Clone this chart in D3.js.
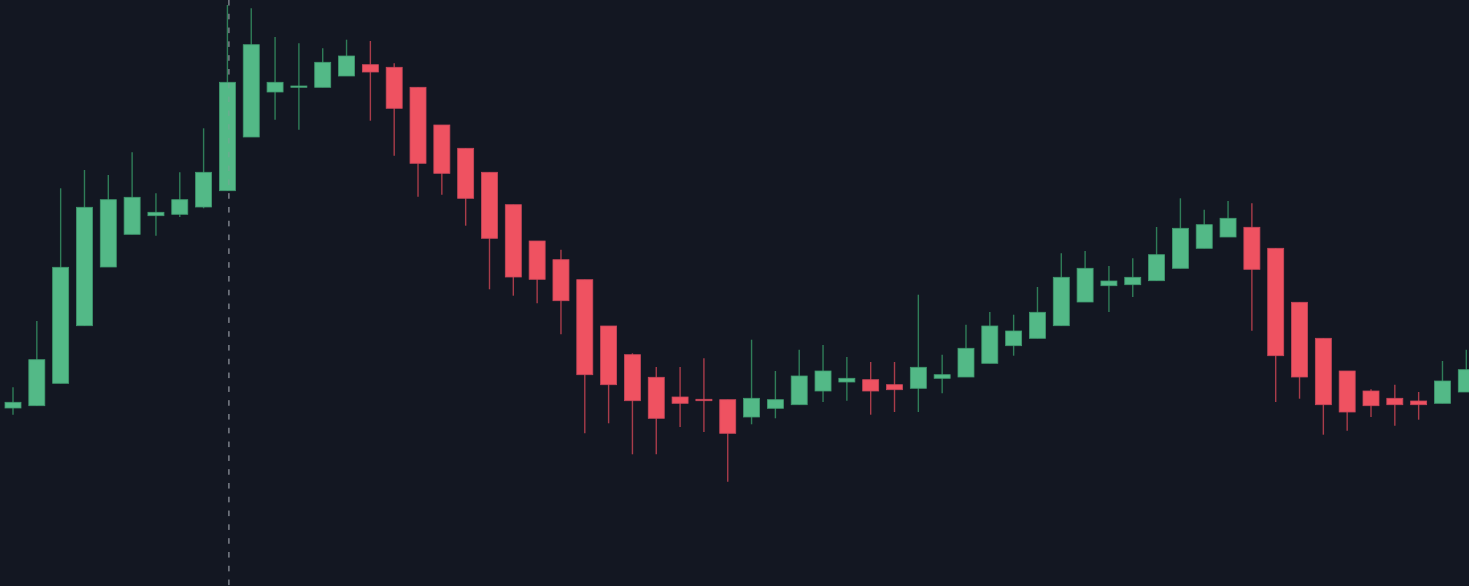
<!DOCTYPE html>
<html>
<head>
<meta charset="utf-8">
<script src="https://cdn.jsdelivr.net/npm/d3@7/dist/d3.min.js"></script>
<style>
  html, body { margin: 0; padding: 0; background: #131722; overflow: hidden; }
  svg { display: block; }
</style>
</head>
<body>
<svg id="chart" width="1469" height="586"></svg>
<script>
// Candle index (categories)
const candleIndex = d3.range(62);
// Series values
const opens  = [117.80,118.03,120.27,126.03,131.90,135.17,137.03,137.17,137.90,139.53,
                144.90,149.40,149.87,149.87,151.00,152.13,151.87,149.87,146.10,143.77,
                141.37,138.13,134.50,132.63,130.63,126.00,123.13,120.87,118.90,118.67,
                118.63,116.90,117.77,118.13,119.50,120.40,120.63,120.13,119.77,120.77,
                120.90,122.27,124.03,124.77,126.03,128.40,130.03,130.13,130.53,131.77,
                133.77,134.90,135.87,133.77,128.37,124.77,121.50,119.50,118.77,118.50,
                118.27,119.40];
const highs  = [119.87,126.50,139.77,141.60,141.10,143.37,139.27,141.37,145.77,158.10,
                157.77,154.90,154.27,153.77,154.63,154.50,152.27,149.87,146.10,143.77,
                141.37,138.13,134.50,133.63,130.63,126.00,123.27,121.90,121.90,122.77,
                118.63,124.63,121.50,123.63,124.10,122.90,122.40,122.40,129.13,123.13,
                126.13,127.40,127.13,129.90,133.27,133.50,132.00,132.77,135.90,138.77,
                137.63,138.50,138.27,133.77,128.37,124.77,121.50,119.67,120.13,119.40,
                122.50,123.63];
const lows   = [117.13,118.03,120.27,126.03,131.90,135.17,135.03,136.90,137.77,139.53,
                144.90,146.63,145.63,149.87,151.00,146.53,143.03,138.93,139.13,136.03,
                129.67,129.03,128.27,125.17,115.27,116.27,113.17,113.17,115.90,115.40,
                110.43,116.17,116.77,118.13,118.40,118.53,117.13,117.40,117.40,119.27,
                120.90,122.27,123.03,124.77,126.03,128.40,127.40,128.90,130.53,131.77,
                133.77,134.90,125.53,118.40,118.73,115.13,115.53,116.90,116.03,116.63,
                118.27,119.40];
const closes = [118.37,122.63,131.87,137.87,138.63,138.87,137.37,138.63,141.37,150.37,
                154.13,150.37,150.00,152.37,153.00,151.40,147.77,142.27,141.27,138.77,
                134.77,130.90,130.67,128.53,121.13,120.13,118.53,116.77,118.27,118.53,
                115.27,118.77,118.63,121.00,121.50,120.77,119.50,119.63,121.87,121.13,
                123.77,126.00,125.50,127.37,130.87,131.77,130.50,130.87,133.13,135.77,
                136.13,136.77,131.67,123.03,120.90,118.13,117.40,118.03,118.13,118.13,
                120.50,121.63];
// Crosshair position (candle index)
const crosshairIndex = [9];

const W = 1469, H = 586;
const svg = d3.select("#chart");
svg.append("rect").attr("width", W).attr("height", H).attr("fill", "#131722");

const data = candleIndex.map(i => ({i, o: opens[i], h: highs[i], l: lows[i], c: closes[i]}));

const x = d3.scaleLinear().domain([0, 61]).range([13, 1466.3]);
const y = d3.scaleLinear().domain([100, 158.6]).range([H, 0]);

const UP = "#53b987", DOWN = "#ef5261";
const UP_WICK = "#2f7d58", DOWN_WICK = "#a93c4a";
const UP_BORDER = "#3f9a6e", DOWN_BORDER = "#c9475a";
const bodyW = 16;

// crosshair dashed line (drawn behind)
svg.append("line")
  .attr("x1", x(crosshairIndex[0]) + 1.5).attr("x2", x(crosshairIndex[0]) + 1.5)
  .attr("y1", 0).attr("y2", H)
  .attr("stroke", "#8d919b").attr("stroke-width", 1)
  .attr("stroke-dasharray", "5.5 8.3");

const g = svg.append("g");
const candles = g.selectAll("g.candle").data(data).join("g").attr("class", "candle");

candles.append("line")
  .attr("x1", d => x(d.i)).attr("x2", d => x(d.i))
  .attr("y1", d => y(d.h)).attr("y2", d => y(d.l))
  .attr("stroke", d => d.c >= d.o ? UP_WICK : DOWN_WICK)
  .attr("stroke-width", 1.4);

candles.append("rect")
  .attr("x", d => x(d.i) - bodyW / 2)
  .attr("width", bodyW)
  .attr("y", d => y(Math.max(d.o, d.c)))
  .attr("height", d => Math.max(1.3, Math.abs(y(d.o) - y(d.c))))
  .attr("fill", d => d.c >= d.o ? UP : DOWN)
  .attr("stroke", d => d.c >= d.o ? UP_BORDER : DOWN_BORDER)
  .attr("stroke-width", 0.8);

// crosshair overlay over candles (faint)
svg.append("line")
  .attr("x1", x(crosshairIndex[0]) + 1.5).attr("x2", x(crosshairIndex[0]) + 1.5)
  .attr("y1", 0).attr("y2", H)
  .attr("stroke", "#9598a1").attr("stroke-opacity", 0.55).attr("stroke-width", 1)
  .attr("stroke-dasharray", "5.5 8.3");
</script>
</body>
</html>
